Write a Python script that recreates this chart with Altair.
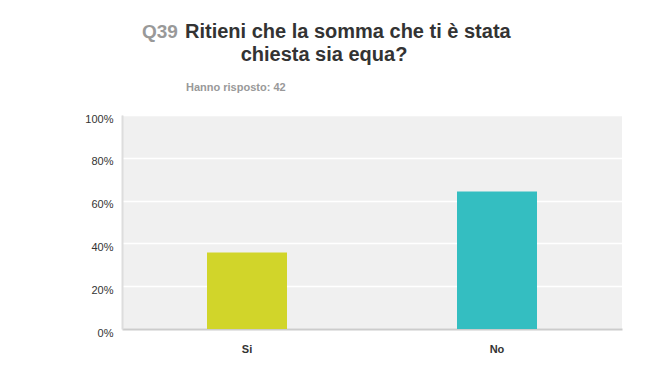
import altair as alt
import pandas as pd

categories = ["Si", "No"]
values = [0.357, 0.643]
colors = ["#d1d52a", "#34bec1"]

df = pd.DataFrame({"cat": categories, "val": values, "color": colors})

FONT = "Liberation Sans"

bars = alt.Chart(df).mark_bar(size=80).encode(
    x=alt.X("cat:N", sort=categories, title=None,
            scale=alt.Scale(paddingInner=0.68, paddingOuter=0.34),
            axis=alt.Axis(labelAngle=0, labelFont=FONT, labelFontSize=11,
                          labelFontWeight="bold", labelColor="#333333",
                          labelPadding=14, ticks=False, domainColor="#cccccc",
                          domainWidth=2, grid=False)),
    y=alt.Y("val:Q", title=None,
            scale=alt.Scale(domain=[0, 1], nice=False),
            axis=alt.Axis(values=[0, 0.2, 0.4, 0.6, 0.8, 1.0], format=".0%",
                          labelFont=FONT, labelFontSize=11, labelColor="#333333",
                          labelPadding=9, labelOffset=4, ticks=False,
                          domainColor="#dddddd", domainWidth=2,
                          gridColor="#ffffff", gridWidth=1.5)),
    color=alt.Color("color:N", scale=None),
)

one = pd.DataFrame({"a": [0]})

def txt(s, x, y, size, color, align="left", weight="bold"):
    return alt.Chart(one).mark_text(
        text=s, font=FONT, fontSize=size, fontWeight=weight, color=color,
        align=align, baseline="alphabetic"
    ).encode(x=alt.value(x), y=alt.value(y))

t1 = txt("Q39", 20, -77, 19, "#999999")
t2 = txt("Ritieni che la somma che ti è stata", 63, -77, 20, "#333333")
t3 = txt("chiesta sia equa?", 202, -54, 20, "#333333", align="center")
t4 = txt("Hanno risposto: 42", 64, -24, 11, "#999999")

chart = alt.layer(bars, t1, t2, t3, t4).properties(
    width=500, height=214,
    autosize=alt.AutoSizeParams(type="none"),
    padding={"left": 122, "top": 115, "right": 28, "bottom": 55},
    background="#ffffff",
).configure_view(fill="#f0f0f0", stroke=None)

chart.save("out.html", embed_options={"renderer": "svg", "actions": False})
